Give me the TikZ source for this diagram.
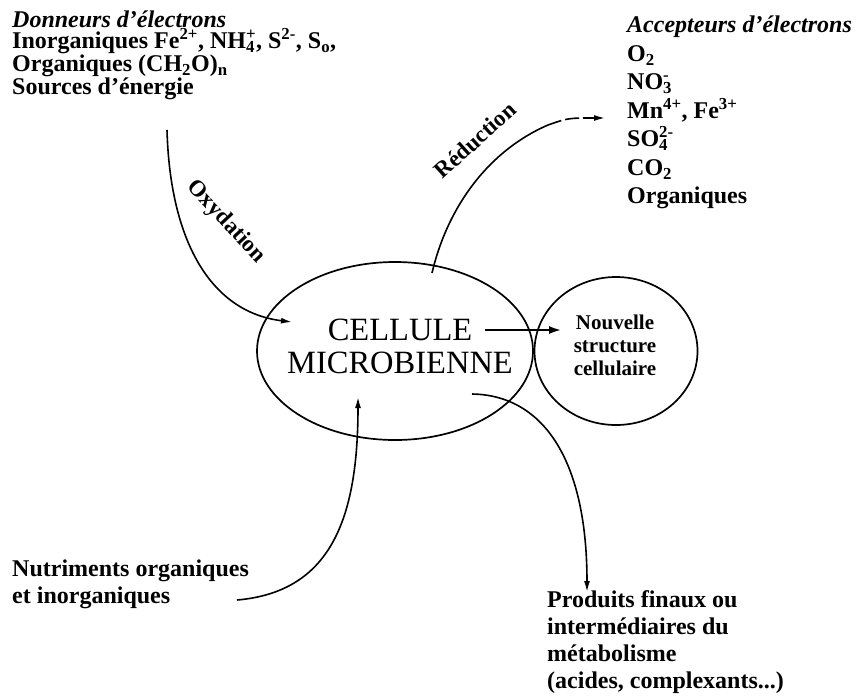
\documentclass[tikz,border=0pt]{standalone}
\usepackage{fontspec}
\setmainfont{Liberation Serif}
\usetikzlibrary{arrows.meta,shapes.geometric}
\newcommand\chss[2]{\setbox0\hbox{\textsuperscript{#1}}\setbox2\hbox{\textsubscript{#2}}\ifdim\wd0>\wd2 \rlap{\box2}\box0\else\rlap{\box0}\box2\fi}
\tikzset{
  txt/.style={inner sep=0pt, align=left, font=\bfseries\fontsize{24}{27}\selectfont},
  flow/.style={line width=1.6pt, -{Latex[length=11pt,width=6pt]}},
  shapeline/.style={line width=1.7pt},
}
\begin{document}
\begin{tikzpicture}[x=1pt,y=-1pt]
\useasboundingbox (0,0) rectangle (858,697);
% left block
\node[txt, anchor=north west, font=\bfseries\fontsize{24}{20.5}\selectfont] (don) at (12,11) {\textit{Donneurs d'électrons}\\
Inorganiques Fe\textsuperscript{2+}, NH\chss{+}{4}, S\textsuperscript{2-}, S\textsubscript{o},\\
Organiques (CH\textsubscript{2}O)\textsubscript{n}\\
Sources d'énergie};
% right block
\node[txt, anchor=north west, font=\bfseries\fontsize{24}{28.5}\selectfont] (acc) at (627,16) {\textit{Accepteurs d'électrons}\\
O\textsubscript{2}\\
NO\chss{-}{3}\\
Mn\textsuperscript{4+}, Fe\textsuperscript{3+}\\
SO\chss{2-}{4}\\
CO\textsubscript{2}\\
Organiques};
% cell
\node[ellipse, draw, shapeline, minimum width=276pt, minimum height=178pt, inner sep=0pt] (cell) at (395,351) {};
\node[inner sep=0pt, align=center, font=\fontsize{32.5}{33}\selectfont] (celltxt) at (400,346) {CELLULE\\MICROBIENNE};
\node[ellipse, draw, shapeline, minimum width=163pt, minimum height=148pt, inner sep=0pt] (nouv) at (616,351) {};
\node[txt, align=center, font=\bfseries\fontsize{21}{23}\selectfont] (nouvtxt) at (615,345) {Nouvelle\\structure\\cellulaire};
\coordinate (ns) at (485,330);
\coordinate (ne) at (562,330);
\draw[line width=2.6pt, -{Latex[length=13pt,width=8pt]}] (ns) -- (ne);
% oxydation
\coordinate (oxs) at (167,130);
\coordinate (oxe) at (292,322);
\draw[flow] (oxs) .. controls (170,240) and (210,312) .. (oxe);
\node[txt, rotate=-47, font=\bfseries\fontsize{23}{23}\selectfont] (oxl) at (226,222) {Oxydation};
% reduction
\coordinate (rs) at (432,273);
\coordinate (rm) at (548,125);
\coordinate (re) at (605,118);
\draw[line width=1.6pt] (rs) .. controls (448,205) and (490,150) .. (rm);
\draw[line width=1.6pt, dash pattern=on 14pt off 4pt, -{Latex[length=11pt,width=6pt]}] (rm) .. controls (568,118) .. (re);
\node[txt, rotate=42, font=\bfseries\fontsize{23}{23}\selectfont] (redl) at (475,140) {Réduction};
% nutrients
\node[txt, anchor=north west] (nut) at (12,560) {Nutriments organiques\\et inorganiques};
\coordinate (nuts) at (237,600);
\coordinate (nute) at (358,397);
\draw[flow] (nuts) .. controls (330,592) and (358,520) .. (nute);
% products
\coordinate (ps) at (472,394);
\coordinate (pe) at (587,592);
\draw[flow] (ps) .. controls (540,395) and (587,455) .. (pe);
\node[txt, anchor=north west] (prod) at (547,590) {Produits finaux ou\\intermédiaires du\\métabolisme\\(acides, complexants...)};
\end{tikzpicture}
\end{document}
